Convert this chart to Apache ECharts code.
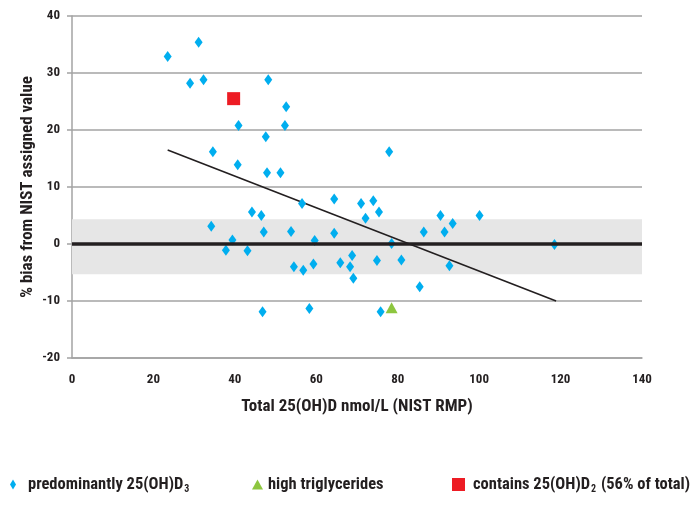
<!DOCTYPE html>
<html>
<head>
<meta charset="utf-8">
<script src="https://cdn.jsdelivr.net/npm/echarts@6/dist/echarts.min.js"></script>
<style>html,body{margin:0;padding:0;background:#fff}#c{width:700px;height:507px}</style>
</head>
<body>
<div id="c"></div>
<script>
// Predominantly 25(OH)D3 samples: [NIST RMP total nmol/L, % bias]
const d3Points = [
  [23.5, 32.9], [31.1, 35.4], [29.0, 28.2], [32.3, 28.8], [48.2, 28.8],
  [52.6, 24.1], [40.9, 20.8], [52.3, 20.8], [47.6, 18.8], [34.6, 16.2],
  [77.9, 16.2], [40.7, 13.9], [47.9, 12.5], [51.2, 12.5], [56.5, 7.1],
  [64.4, 7.9], [71.0, 7.1], [74.0, 7.6], [72.1, 4.5], [75.4, 5.6],
  [44.2, 5.6], [46.5, 5.0], [34.2, 3.1], [47.1, 2.1], [53.8, 2.2],
  [64.4, 1.9], [39.4, 0.7], [59.6, 0.6], [78.5, 0.1], [37.8, -1.1],
  [43.1, -1.2], [54.5, -4.0], [56.8, -4.6], [59.3, -3.5], [65.9, -3.3],
  [68.3, -4.0], [68.8, -2.0], [69.1, -6.0], [74.9, -2.9], [80.9, -2.8],
  [85.4, -7.5], [86.4, 2.1], [90.5, 5.0], [91.5, 2.1], [92.7, -3.8],
  [93.5, 3.6], [100.1, 5.0], [118.5, -0.1], [46.8, -11.9], [58.3, -11.3],
  [75.8, -11.9]
];
const triglyPoints = [[78.5, -11.2]];
const d2Points = [[39.7, 25.5]];
const trendLine = [[23.5, 16.5], [118.9, -10.0]];
const bandLimits = [4.35, -5.3];
const seriesNames = ['d3', 'tg', 'd2'];
const xTicks = { min: 0, max: 140, interval: 20 };
const yTicks = { min: -20, max: 40, interval: 10 };

const FONT = '"Roboto Condensed", "Open Sans", sans-serif';
const WEIGHT = 'bold';
const TXT = '#231f20';
const GRID = '#a3a3a3';

const chart = echarts.init(document.getElementById('c'), null, { renderer: 'canvas' });

function legendCfg(name, left, icon, w, h, textPad) {
  return {
    data: [name], left: left, top: 476, icon: icon, padding: 0,
    itemWidth: w, itemHeight: h, itemGap: 0,
    textStyle: {
      fontFamily: FONT, fontWeight: WEIGHT, fontSize: 16.5, color: TXT,
      rich: {
        a: { fontFamily: FONT, fontWeight: WEIGHT, fontSize: 16.5, color: TXT, padding: [0, 0, 0, textPad] },
        b: { fontFamily: FONT, fontWeight: WEIGHT, fontSize: 16.5, color: TXT },
        s: { fontFamily: FONT, fontWeight: WEIGHT, fontSize: 10, color: TXT, padding: [9, 1, 0, 1] }
      }
    },
    formatter: function (n) {
      if (n === 'd3') return '{a|predominantly 25(OH)D}{s|3}';
      if (n === 'tg') return '{a|high triglycerides}';
      return '{a|contains 25(OH)D}{s|2}{b| (56% of total)}';
    }
  };
}

chart.setOption({
  animation: false,
  backgroundColor: '#fff',
  grid: { left: 72, right: 58, top: 16, bottom: 149 },
  legend: [
    legendCfg('d3', 10, 'diamond', 6, 10, 7),
    legendCfg('tg', 252, 'triangle', 11, 10, 0),
    legendCfg('d2', 452, 'rect', 13, 13, 3)
  ],
  xAxis: {
    type: 'value', min: xTicks.min, max: xTicks.max, interval: xTicks.interval,
    axisLine: { show: true, onZero: false, lineStyle: { color: GRID, width: 1.5 } },
    axisTick: { show: false },
    splitLine: { show: false },
    axisLabel: { fontFamily: FONT, fontWeight: WEIGHT, fontSize: 13, color: TXT, margin: 15 },
    name: 'Total 25(OH)D nmol/L (NIST RMP)',
    nameLocation: 'middle', nameGap: 40, nameMoveOverlap: false,
    nameTextStyle: { fontFamily: FONT, fontWeight: WEIGHT, fontSize: 17, color: TXT }
  },
  yAxis: {
    type: 'value', min: yTicks.min, max: yTicks.max, interval: yTicks.interval,
    axisLine: { show: true, onZero: false, lineStyle: { color: GRID, width: 1.5 } },
    axisTick: { show: true, length: 5, lineStyle: { color: GRID, width: 1.5 } },
    splitLine: { show: true, lineStyle: { color: GRID, width: 1.5 } },
    axisLabel: { fontFamily: FONT, fontWeight: WEIGHT, fontSize: 13, color: TXT, margin: 12 },
    name: '% bias from NIST assigned value',
    nameLocation: 'middle', nameGap: 36, nameMoveOverlap: false,
    nameTextStyle: { fontFamily: FONT, fontWeight: WEIGHT, fontSize: 17, color: TXT }
  },
  series: [
    {
      name: 'band', type: 'line', data: [], silent: true,
      markArea: {
        silent: true,
        itemStyle: { color: '#e6e6e6' },
        data: [[{ yAxis: bandLimits[0] }, { yAxis: bandLimits[1] }]]
      },
      markLine: {
        silent: true, symbol: 'none', label: { show: false },
        lineStyle: { color: '#231f20', width: 3.5, type: 'solid' },
        data: [{ yAxis: 0 }]
      }
    },
    {
      name: 'trend', type: 'line', data: trendLine, showSymbol: false, symbol: 'none',
      lineStyle: { color: '#231f20', width: 1.6 }, z: 3
    },
    {
      name: seriesNames[0], type: 'scatter', data: d3Points, symbol: 'diamond',
      symbolSize: [8, 11], itemStyle: { color: '#00aeef', opacity: 1 }, z: 4
    },
    {
      name: seriesNames[1], type: 'scatter', data: triglyPoints, symbol: 'triangle',
      symbolSize: [12, 11], itemStyle: { color: '#8dc63f', opacity: 1 }, z: 4
    },
    {
      name: seriesNames[2], type: 'scatter', data: d2Points, symbol: 'rect',
      symbolSize: [13, 13], itemStyle: { color: '#ed1c24', opacity: 1 }, z: 4
    }
  ]
});
</script>
</body>
</html>
